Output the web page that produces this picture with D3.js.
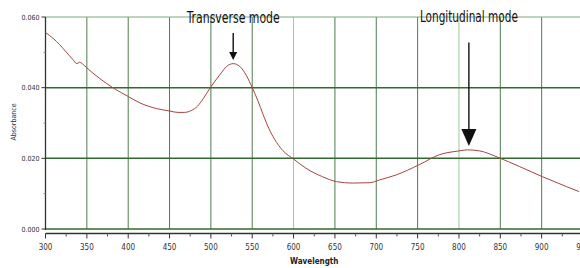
<!DOCTYPE html>
<html>
  <head>
    <meta charset="utf-8">
    <script src="https://cdn.jsdelivr.net/npm/d3@7"></script>
    <style>
        body { margin: 0; background: #fff; }
        text { font-family: "Liberation Sans Narrow", "DejaVu Sans Condensed", sans-serif; }
    </style>
  </head>

  <body>
    <div id="my_dataviz"></div>
  </body>

  <script>

    // spectrum
    let wavelength = [300, 310, 317, 325, 333, 338, 341, 345, 350, 365, 382, 400, 414, 434, 450, 460, 468, 476, 484, 491, 499,
                      511, 519, 527, 535, 543, 550, 557, 563, 570, 577, 587, 600, 615, 635, 652, 671, 692, 704, 724, 752,
                      776, 800, 810, 825, 849, 873, 901, 930, 945];
    let absorbance = [0.0556, 0.0538, 0.0522, 0.0501, 0.0480, 0.0468, 0.0472, 0.0467, 0.0456, 0.0427, 0.0399, 0.0375, 0.0357, 0.0341, 0.0334, 0.0330, 0.0330, 0.0335, 0.0348, 0.0370, 0.0399,
                      0.0437, 0.0460, 0.0468, 0.0460, 0.0434, 0.0400, 0.0362, 0.0325, 0.0285, 0.0254, 0.0222, 0.0198, 0.0172, 0.0148, 0.0134, 0.0130, 0.0131, 0.0139, 0.0153, 0.0182,
                      0.0210, 0.0221, 0.0224, 0.0221, 0.0201, 0.0177, 0.0148, 0.0120, 0.0106];

    let xTicks = [300, 350, 400, 450, 500, 550, 600, 650, 700, 750, 800, 850, 900, 950];
    let xMinor = [325, 375, 425, 475, 525, 575, 625, 675, 725, 775, 825, 875, 925];
    let yTicks = [0, 0.02, 0.04, 0.06];
    let yMinor = [0.01, 0.03, 0.05];

    let annotations = [
        {label: "Transverse mode", x: 527, textY: 0.0583, from: 0.0555, to: 0.0478, head: 8, headW: 8, len: 93},
        {label: "Longitudinal mode", x: 812, textY: 0.0585, from: 0.0528, to: 0.0235, head: 17, headW: 15, len: 98}
    ];

    let width = 580, height = 268;

    let svg = d3.select("#my_dataviz")
                .append("svg")
                    .attr("width", width)
                    .attr("height", height);

    let x = d3.scaleLinear()
              .domain([300, 950])
              .range([45.5, 583]);

    let y = d3.scaleLinear()
              .domain([0, 0.06])
              .range([229, 17]);

    // vertical grid
    svg.append("g")
       .selectAll("line")
       .data(xTicks.slice(1))
       .enter()
       .append("line")
         .attr("x1", d => x(d)).attr("x2", d => x(d))
         .attr("y1", y(0.06)).attr("y2", y(0))
         .attr("stroke", d => (d == 600 || d == 800) ? "#9cc79c" : "#4d7d4d")
         .attr("stroke-width", 1);

    // horizontal grid
    svg.append("g")
       .selectAll("line")
       .data(yTicks)
       .enter()
       .append("line")
         .attr("x1", x(300)).attr("x2", width)
         .attr("y1", d => y(d)).attr("y2", d => y(d))
         .attr("stroke", d => d == 0.06 ? "#7aa97a" : "#2f6a2f")
         .attr("stroke-width", d => d == 0.06 ? 1 : 1.5);

    // left axis line
    svg.append("line")
       .attr("x1", x(300)).attr("x2", x(300))
       .attr("y1", y(0.06)).attr("y2", y(0) + 1)
       .attr("stroke", "#333").attr("stroke-width", 1.3);

    // y ticks
    let yAxis = svg.append("g");
    yAxis.selectAll("line.major")
         .data(yTicks).enter().append("line")
           .attr("x1", x(300) - 4).attr("x2", x(300))
           .attr("y1", d => y(d)).attr("y2", d => y(d))
           .attr("stroke", "#333");
    yAxis.selectAll("line.minor")
         .data(yMinor).enter().append("line")
           .attr("x1", x(300) - 2).attr("x2", x(300))
           .attr("y1", d => y(d)).attr("y2", d => y(d))
           .attr("stroke", "#888");
    yAxis.selectAll("text")
         .data(yTicks).enter().append("text")
           .attr("x", x(300) - 6)
           .attr("y", d => y(d) + 2.5)
           .attr("text-anchor", "end")
           .attr("font-size", 7)
           .attr("fill", "#333")
           .text(d => d3.format(".3f")(d));

    // bottom axis, a bit below the plot frame
    let axisY = 233.5;
    svg.append("line")
       .attr("x1", x(300)).attr("x2", width)
       .attr("y1", axisY).attr("y2", axisY)
       .attr("stroke", "#333").attr("stroke-width", 1.3);

    let xAxis = svg.append("g");
    xAxis.selectAll("line.major")
         .data(xTicks).enter().append("line")
           .attr("x1", d => x(d)).attr("x2", d => x(d))
           .attr("y1", axisY).attr("y2", axisY + 5)
           .attr("stroke", "#333");
    xAxis.selectAll("line.minor")
         .data(xMinor).enter().append("line")
           .attr("x1", d => x(d)).attr("x2", d => x(d))
           .attr("y1", axisY).attr("y2", axisY + 3)
           .attr("stroke", "#555");
    // the 950 label is cut by the right edge, as in the original
    xAxis.selectAll("text")
         .data(xTicks).enter().append("text")
           .attr("x", d => x(d))
           .attr("y", 250)
           .attr("text-anchor", "middle")
           .attr("font-size", 8)
           .attr("fill", "#333")
           .text(d => d);

    // axis titles
    svg.append("text")
       .attr("x", x(625))
       .attr("y", 264)
       .attr("text-anchor", "middle")
       .attr("font-size", 8)
       .attr("font-weight", "bold")
       .attr("fill", "#222")
       .text("Wavelength");

    svg.append("text")
       .attr("transform", "translate(16,122) rotate(-90)")
       .attr("text-anchor", "middle")
       .attr("font-family", "DejaVu Sans")
       .attr("font-size", 7)
       .attr("fill", "#333")
       .text("Absorbance");

    // spectrum
    svg.append("path")
       .datum(wavelength.map((w, i) => ({w: w, a: absorbance[i]})))
       .attr("fill", "none")
       .attr("stroke", "#a8443c")
       .attr("stroke-width", 1)
       .attr("d", d3.line()
         .curve(d3.curveMonotoneX)
         .x(d => x(d.w))
         .y(d => y(d.a))
       );

    // annotations with arrows
    let ann = svg.append("g").selectAll("g")
                 .data(annotations).enter().append("g");

    ann.append("text")
       .attr("x", d => x(d.x) - d.len / 2)
       .attr("y", d => y(d.textY))
       .attr("font-size", 15)
       .attr("textLength", d => d.len)
       .attr("lengthAdjust", "spacingAndGlyphs")
       .attr("fill", "#111")
       .text(d => d.label);

    ann.append("line")
       .attr("x1", d => x(d.x)).attr("x2", d => x(d.x))
       .attr("y1", d => y(d.from))
       .attr("y2", d => y(d.to) - d.head + 1)
       .attr("stroke", "#111")
       .attr("stroke-width", 1.4);

    ann.append("path")
       .attr("fill", "#111")
       .attr("d", d => {
           let cx = x(d.x), tip = y(d.to);
           return "M" + (cx - d.headW / 2) + "," + (tip - d.head) +
                  "L" + (cx + d.headW / 2) + "," + (tip - d.head) +
                  "L" + cx + "," + tip + "Z";
       });

  </script>
</html>
